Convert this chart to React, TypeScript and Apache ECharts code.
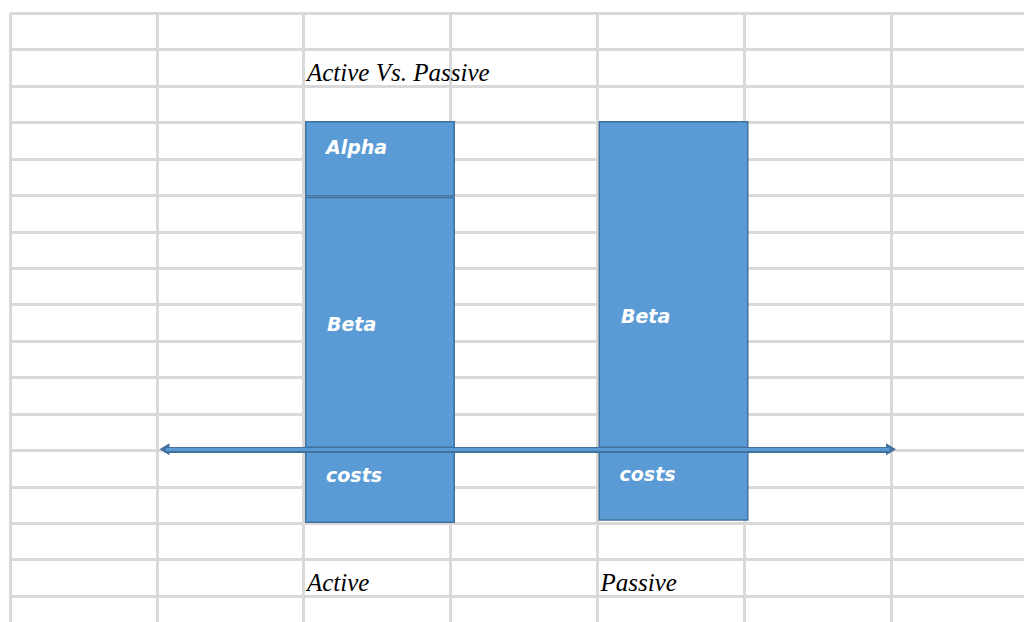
import React, { useEffect, useRef } from 'react';
import * as echarts from 'echarts';

// ---- data ----
const categories = ['Active', 'Passive'];
const costsValues = [-1.0, -0.97];
const betaValues = [3.35, 4.36];
const alphaValues: (number | null)[] = [1.01, null];
const segmentNames = ['costs', 'Beta', 'Alpha'];
const chartTitle = 'Active Vs. Passive';
// spreadsheet backdrop: number of columns / rows shown
const sheetColumns = 7;
const sheetRows = 17;
// arrow (zero line) drawn on the sheet coordinates
const arrowFrom = [1.052, 11.97];
const arrowTo = [6.0, 11.97];

const BAR = '#5B9BD5';
const BORDER = '#41719C';
const GRID = '#d9d9d9';

const barLabelFont = {
  color: '#ffffff',
  fontFamily: 'DejaVu Sans',
  fontStyle: 'italic' as const,
  fontWeight: 'bold' as const,
  fontSize: 19,
};

function item(value: number | null, dx: number, dy: number) {
  return {
    value,
    label: { distance: dx, offset: [0, dy] },
  };
}

export default function App() {
  const ref = useRef<HTMLDivElement>(null);
  useEffect(() => {
    if (!ref.current) return;
    const chart = echarts.init(ref.current, undefined, { renderer: 'svg' });
    const barCommon = {
      type: 'bar' as const,
      stack: 'total',
      xAxisIndex: 1,
      yAxisIndex: 1,
      barWidth: 150,
      z: 2,
      itemStyle: { color: BAR, borderColor: BORDER, borderWidth: 1.5 },
      label: {
        show: true,
        position: 'insideLeft' as const,
        formatter: (p: any) => p.seriesName,
        ...barLabelFont,
      },
    };
    chart.setOption({
      animation: false,
      backgroundColor: '#ffffff',
      title: {
        text: chartTitle,
        left: 307,
        top: 60,
        padding: 0,
        textStyle: {
          fontFamily: 'Liberation Serif',
          fontStyle: 'italic',
          fontWeight: 'normal',
          fontSize: 25,
          color: '#000000',
        },
      },
      grid: [
        { left: 10, top: 13.3, width: 1027.8, height: 619.2 },
        { left: 233.25, top: 110.5, width: 587, height: 450 },
      ],
      xAxis: [
        {
          type: 'value',
          gridIndex: 0,
          min: 0,
          max: sheetColumns,
          interval: 1,
          axisLine: { show: false },
          axisTick: { show: false },
          axisLabel: { show: false },
          splitLine: { show: true, lineStyle: { color: GRID, width: 3 } },
        },
        {
          type: 'category',
          gridIndex: 1,
          data: categories,
          axisLine: { show: false },
          axisTick: { show: false },
          splitLine: { show: false },
          axisLabel: {
            margin: 9,
            formatter: (v: string) => `{a|${v}}`,
            rich: {
              a: {
                width: 146,
                align: 'left',
                fontFamily: 'Liberation Serif',
                fontStyle: 'italic',
                fontSize: 25,
                color: '#000000',
              },
            },
          },
        },
      ],
      yAxis: [
        {
          type: 'value',
          gridIndex: 0,
          inverse: true,
          min: 0,
          max: sheetRows,
          interval: 1,
          axisLine: { show: false },
          axisTick: { show: false },
          axisLabel: { show: false },
          splitLine: { show: true, lineStyle: { color: GRID, width: 3 } },
        },
        {
          type: 'value',
          gridIndex: 1,
          min: -1.5,
          max: 4.5,
          show: false,
          splitLine: { show: false },
        },
      ],
      series: [
        {
          ...barCommon,
          name: segmentNames[0],
          data: [item(costsValues[0], 21, -11), item(costsValues[1], 21, -10)],
        },
        {
          ...barCommon,
          name: segmentNames[1],
          data: [item(betaValues[0], 22, 2), item(betaValues[1], 22.5, 31)],
        },
        {
          ...barCommon,
          name: segmentNames[2],
          data: [item(alphaValues[0], 21, -12), item(alphaValues[1], 21, 0)],
        },
        {
          type: 'line',
          xAxisIndex: 0,
          yAxisIndex: 0,
          data: [],
          z: 5,
          markLine: {
            silent: true,
            symbol: ['triangle', 'triangle'],
            symbolSize: [12, 10],
            label: { show: false },
            lineStyle: { color: BORDER, width: 6, type: 'solid' },
            data: [[{ coord: arrowFrom }, { coord: arrowTo }]],
          },
        },
        {
          type: 'line',
          xAxisIndex: 0,
          yAxisIndex: 0,
          data: [],
          z: 6,
          markLine: {
            silent: true,
            symbol: ['none', 'none'],
            label: { show: false },
            lineStyle: { color: BAR, width: 3, type: 'solid' },
            data: [[{ coord: [arrowFrom[0] + 0.01, arrowFrom[1]] }, { coord: [arrowTo[0] - 0.01, arrowTo[1]] }]],
          },
        },
      ],
    });
    return () => chart.dispose();
  }, []);
  return (
    <div
      style={{ position: 'absolute', left: 0, top: 0, width: 1024, height: 622, overflow: 'hidden' }}
    >
      <div ref={ref} style={{ width: 1040, height: 640 }} />
    </div>
  );
}
